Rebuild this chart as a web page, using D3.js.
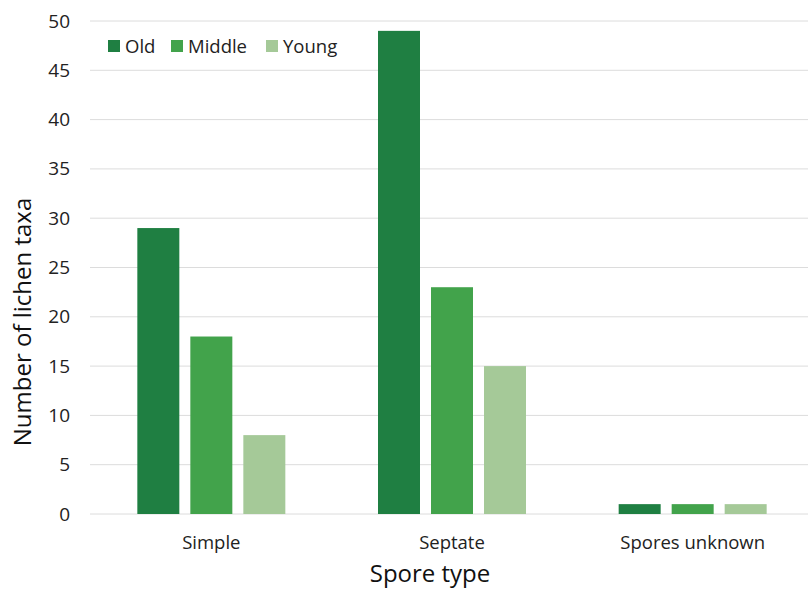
<!DOCTYPE html>
<html>
<head>
<meta charset="utf-8">
<script src="https://cdn.jsdelivr.net/npm/d3@7"></script>
<style>
  html, body { margin: 0; padding: 0; background: #fff; }
  svg { display: block; font-family: "Open Sans", "Noto Sans", sans-serif; }
</style>
</head>
<body>
<svg id="chart" width="808" height="590"></svg>
<script>
// Lichen taxa counts by spore type and stand age
const categories = ["Simple", "Septate", "Spores unknown"];
const seriesNames = ["Old", "Middle", "Young"];
const oldValues = [29, 49, 1];
const middleValues = [18, 23, 1];
const youngValues = [8, 15, 1];
const yTicks = [0, 5, 10, 15, 20, 25, 30, 35, 40, 45, 50];
const colors = ["#1f7f42", "#42a34b", "#a5c998"];

const seriesValues = [oldValues, middleValues, youngValues];

const svg = d3.select("#chart");
const plotLeft = 91, plotRight = 813, plotTop = 21, plotBottom = 514;

const x = d3.scaleBand().domain(categories).range([plotLeft, plotRight]).paddingInner(0).paddingOuter(0);
const y = d3.scaleLinear().domain([0, 50]).range([plotBottom, plotTop]);

const barW = 42, barStep = 53;
const xSeries = d3.scaleOrdinal().domain(seriesNames).range([-barStep, 0, barStep]);

// gridlines
svg.append("g")
  .selectAll("line")
  .data(yTicks)
  .join("line")
  .attr("x1", plotLeft - 1)
  .attr("x2", 808)
  .attr("y1", d => y(d))
  .attr("y2", d => y(d))
  .attr("stroke", "#dcdcdc")
  .attr("stroke-width", 1);

// y axis labels
const yAxis = d3.axisLeft(y).tickValues(yTicks).tickSize(0).tickPadding(0);
const gy = svg.append("g").attr("transform", `translate(70,0)`).call(yAxis);
gy.select(".domain").remove();
gy.selectAll("text")
  .attr("font-size", 19)
  .attr("fill", "#222")
  .attr("font-family", "'Open Sans', sans-serif");

// bars
const rows = [];
categories.forEach((c, i) => {
  seriesNames.forEach((s, j) => rows.push({ cat: c, series: s, value: seriesValues[j][i], color: colors[j] }));
});

svg.append("g")
  .selectAll("rect")
  .data(rows)
  .join("rect")
  .attr("x", d => x(d.cat) + x.bandwidth() / 2 + xSeries(d.series) - barW / 2)
  .attr("y", d => y(d.value))
  .attr("width", barW)
  .attr("height", d => y(0) - y(d.value))
  .attr("fill", d => d.color);

// x axis labels
const xAxis = d3.axisBottom(x).tickSize(0).tickPadding(0);
const gx = svg.append("g").attr("transform", `translate(0,549)`).call(xAxis);
gx.select(".domain").remove();
gx.selectAll("text")
  .attr("dy", 0)
  .attr("font-size", 18.5)
  .attr("fill", "#222")
  .attr("font-family", "'Open Sans', sans-serif");

// axis titles
svg.append("text")
  .attr("x", 430)
  .attr("y", 582)
  .attr("text-anchor", "middle")
  .attr("font-size", 24)
  .attr("fill", "#111")
  .text("Spore type");

svg.append("text")
  .attr("transform", "translate(31,322) rotate(-90)")
  .attr("text-anchor", "middle")
  .attr("font-size", 24)
  .attr("fill", "#111")
  .text("Number of lichen taxa");

// legend
const legendX = [108, 171, 266];
const lg = svg.append("g");
seriesNames.forEach((s, i) => {
  lg.append("rect")
    .attr("x", legendX[i]).attr("y", 40)
    .attr("width", 12).attr("height", 12)
    .attr("fill", colors[i]);
  lg.append("text")
    .attr("x", legendX[i] + 17).attr("y", 53)
    .attr("font-size", 18.5)
    .attr("fill", "#222")
    .text(s);
});
</script>
</body>
</html>
